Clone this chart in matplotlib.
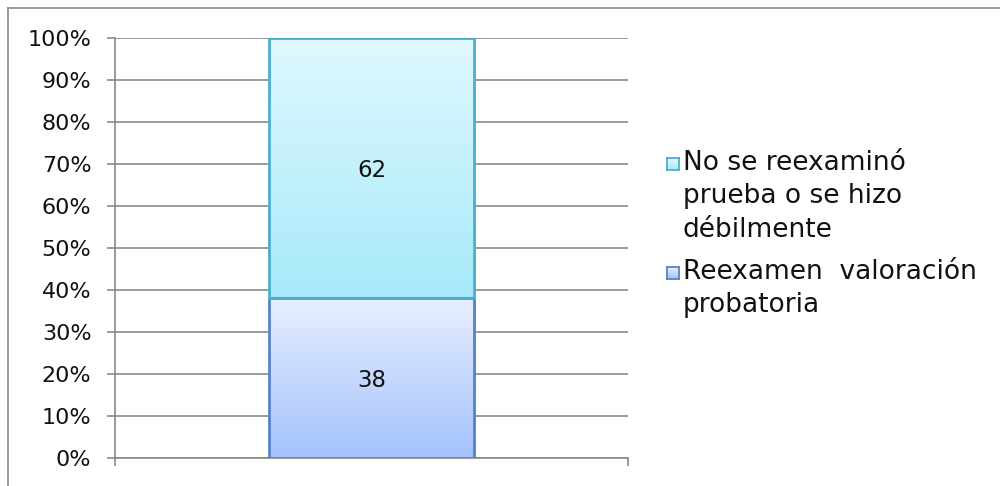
import numpy as np
import matplotlib
matplotlib.use("Agg")
import matplotlib.pyplot as plt
from matplotlib.patches import Rectangle
from matplotlib.lines import Line2D
import matplotlib.patheffects as pe
from matplotlib.colors import LinearSegmentedColormap

# ---- data ----
categories = [""]
series_names = ["Reexamen  valoración\nprobatoria",
                "No se reexaminó\nprueba o se hizo\ndébilmente"]
series_values = [[38], [62]]
yticks = list(range(0, 101, 10))
ytick_labels = [f"{v}%" for v in yticks]

# ---- style ----
grad_colors = [("#e8effe", "#a3c1fc"),   # bottom series: top -> bottom
               ("#e0f8fe", "#a6eafa")]   # top series
edge_colors = ["#5585c4", "#4bb0cc"]
grid_col = "#8a8a8a"
plt.rcParams['font.family'] = ['DejaVu Sans']

W, H = 1000, 486
fig = plt.figure(figsize=(W / 100, H / 100), dpi=100)
ax = fig.add_axes([115 / W, (H - 458) / H, (628 - 115) / W, 420 / H])

x = np.arange(len(categories))
bottoms = np.zeros(len(categories))
for i, (vals, name) in enumerate(zip(series_values, series_names)):
    vals = np.array(vals, dtype=float)
    bars = ax.bar(x, vals, width=0.4, bottom=bottoms, facecolor="none",
                  edgecolor=edge_colors[i], linewidth=2.0, zorder=4)
    for b, v in zip(bars, vals):
        x0, y0 = b.get_x(), b.get_y()
        w, h = b.get_width(), b.get_height()
        sh = Rectangle((x0, y0), w, h, facecolor="white", edgecolor="none", zorder=2)
        sh.set_path_effects([pe.SimplePatchShadow(offset=(1.5, -1.5), shadow_rgbFace="#000000", alpha=0.25)])
        ax.add_patch(sh)
        cmap = LinearSegmentedColormap.from_list("g", [grad_colors[i][1], grad_colors[i][0]])
        grad = np.linspace(0, 1, 256).reshape(-1, 1)
        im = ax.imshow(grad, extent=(x0, x0 + w, y0, y0 + h), origin="lower",
                       cmap=cmap, aspect="auto", zorder=3, interpolation="bilinear")
        clip = Rectangle((x0, y0), w, h, transform=ax.transData)
        im.set_clip_path(clip)
        ax.text(x0 + w / 2, y0 + h / 2 - 0.6, f"{int(v)}", ha="center", va="center",
                fontsize=16.5, color="#111111", zorder=5)
    bottoms += vals

ax.set_xlim(-0.5, 0.5)
ax.set_ylim(0, 100)
ax.set_yticks(yticks)
ax.set_yticklabels(ytick_labels, fontsize=16, color="#111111")
ax.set_xticks([-0.5, 0.5])
ax.set_xticklabels(["", ""])
ax.tick_params(axis="y", length=6, width=1.2, color=grid_col, pad=11)
ax.tick_params(axis="x", length=5.5, width=1.2, color=grid_col)
ax.grid(axis="y", color=grid_col, linewidth=1.2, zorder=0)
ax.set_axisbelow(True)
for s in ["top", "right"]:
    ax.spines[s].set_visible(False)
for s in ["left", "bottom"]:
    ax.spines[s].set_color(grid_col)
    ax.spines[s].set_linewidth(1.2)

# ---- legend (manual, handle aligned with first line) ----
leg_order = [1, 0]
leg_y = [164, 273]
for idx, yy in zip(leg_order, leg_y):
    sq_size = 12
    fx0 = 667 / W
    fy0 = (H - yy - sq_size / 2) / H
    cmap = LinearSegmentedColormap.from_list("g", [grad_colors[idx][1], grad_colors[idx][0]])
    lax = fig.add_axes([fx0, fy0, sq_size / W, sq_size / H])
    lax.imshow(np.linspace(0, 1, 32).reshape(-1, 1), origin="lower", cmap=cmap, aspect="auto")
    lax.set_xticks([]); lax.set_yticks([])
    for s in lax.spines.values():
        s.set_color(edge_colors[idx]); s.set_linewidth(1.3)
    fig.text(683 / W, (H - yy + 14) / H, series_names[idx], ha="left", va="top",
             fontsize=19, color="#111111", linespacing=1.37)

# ---- outer frame (top and left only) ----
fig.add_artist(Line2D([8 / W, 1], [1 - 8 / H, 1 - 8 / H], color=grid_col, linewidth=1.2))
fig.add_artist(Line2D([8 / W, 8 / W], [0, 1 - 8 / H], color=grid_col, linewidth=1.2))

fig.savefig("out.png", dpi=100)
